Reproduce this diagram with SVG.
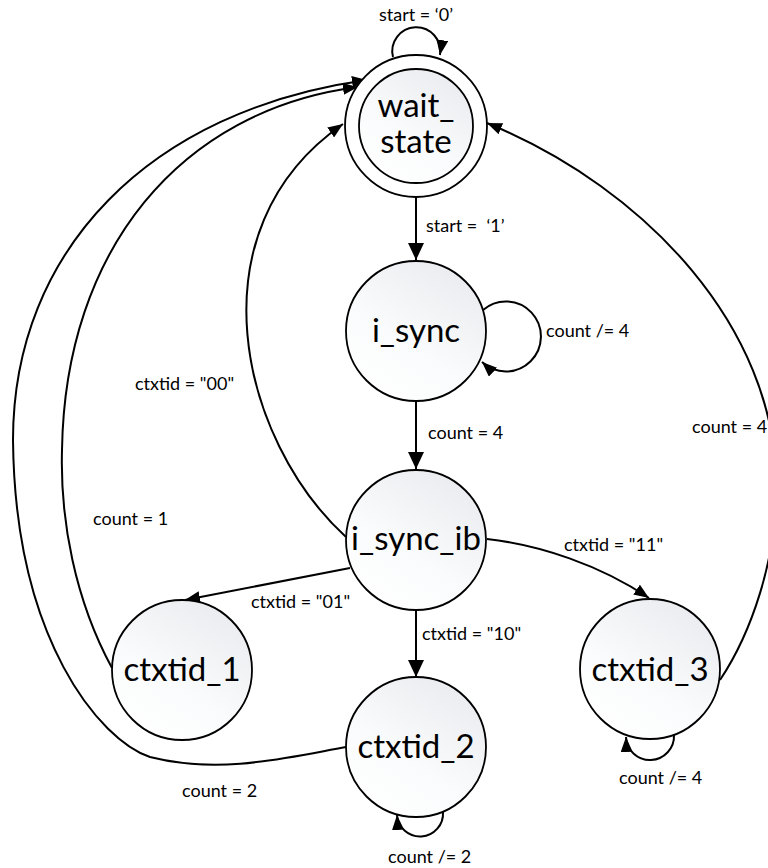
<svg xmlns="http://www.w3.org/2000/svg" width="768" height="868" viewBox="0 0 768 868">
<style>
.node{stroke:#000;stroke-width:1.8;fill:url(#g)}
.ring{stroke:#000;stroke-width:1.8;fill:#fff}
.nt{font-family:Lato,"Liberation Sans",sans-serif;font-size:33px;fill:#000;text-anchor:middle}
.lb{font-family:Lato,"Liberation Sans",sans-serif;font-size:18px;fill:#000;white-space:pre}
.e{fill:none;stroke:#000;stroke-width:2}
.ea{marker-end:url(#a)}
.eb{marker-end:url(#b)}
</style>
<defs>
<linearGradient id="g" x1="0.85" y1="0" x2="0.2" y2="1">
<stop offset="0" stop-color="#e8eaee"/>
<stop offset="0.6" stop-color="#fafbfc"/>
<stop offset="1" stop-color="#ffffff"/>
</linearGradient>
<marker id="a" viewBox="0 0 15 12" refX="15" refY="6" markerWidth="15" markerHeight="12" markerUnits="userSpaceOnUse" orient="auto"><path d="M0,0 L15,6 L0,12 z" fill="#000"/></marker>
<marker id="b" viewBox="0 0 17 16" refX="17" refY="8" markerWidth="17" markerHeight="16" markerUnits="userSpaceOnUse" orient="auto"><path d="M0,0 L17,8 L0,16 z" fill="#000"/></marker>
</defs>
<g id="connectors">
<path class="e ea" d="M393,57 A24,24 0 1 1 440,55"/>
<path class="e eb" d="M416,197 L416,260"/>
<path class="e ea" d="M483,310 A35,35 0 1 1 482,362"/>
<path class="e eb" d="M416,401 L416,469"/>
<path class="e ea" d="M346,537 C240,440 190,230 343,124"/>
<path class="e ea" d="M112,668 C75,600 60,520 62,450 C65,250 180,110 358,87"/>
<path class="e ea" d="M346,747 C290,757 220,775 150,757 C100,740 15,640 13,440 C13,250 150,110 367,80"/>
<path class="e ea" d="M350,568 L185,600"/>
<path class="e eb" d="M416,610 L416,677"/>
<path class="e ea" d="M487,539 C540,545 600,565 649,598"/>
<path class="e ea" d="M720,680 C750,635 778,560 776,480 C774,330 650,190 487,123"/>
<path class="e ea" d="M674,735 A24,24 0 1 1 626,737"/>
<path class="e ea" d="M443,812 A23,23 0 1 1 397,815"/>
</g>
<g id="labels">
<text class="lb" x="379" y="21">start = ‘0’</text>
<text class="lb" x="426" y="232">start =  ‘1’</text>
<text class="lb" x="546" y="337">count /= 4</text>
<text class="lb" x="428" y="439">count = 4</text>
<text class="lb" x="692" y="433">count = 4</text>
<text class="lb" x="135" y="390">ctxtid = "00"</text>
<text class="lb" x="93" y="525">count = 1</text>
<text class="lb" x="251" y="608">ctxtid = "01"</text>
<text class="lb" x="422" y="640">ctxtid = "10"</text>
<text class="lb" x="564" y="551">ctxtid = "11"</text>
<text class="lb" x="619" y="784">count /= 4</text>
<text class="lb" x="388" y="863">count /= 2</text>
<text class="lb" x="182" y="797">count = 2</text>
</g>
<g id="wait_state">
<circle class="ring" cx="416" cy="126" r="71"/>
<circle class="node" cx="416" cy="126" r="57"/>
<text class="nt" x="416" y="117">wait_</text>
<text class="nt" x="416" y="153">state</text>
</g>
<g id="i_sync">
<circle class="node" cx="416" cy="331" r="70"/>
<text class="nt" x="416" y="342">i_sync</text>
</g>
<g id="i_sync_ib">
<circle class="node" cx="416" cy="540" r="70"/>
<text class="nt" x="416" y="550">i_sync_ib</text>
</g>
<g id="ctxtid_1">
<circle class="node" cx="182" cy="670" r="70"/>
<text class="nt" x="182" y="681">ctxtid_1</text>
</g>
<g id="ctxtid_2">
<circle class="node" cx="416" cy="747" r="70"/>
<text class="nt" x="416" y="758">ctxtid_2</text>
</g>
<g id="ctxtid_3">
<circle class="node" cx="650" cy="669" r="70"/>
<text class="nt" x="650" y="681">ctxtid_3</text>
</g>
</svg>
